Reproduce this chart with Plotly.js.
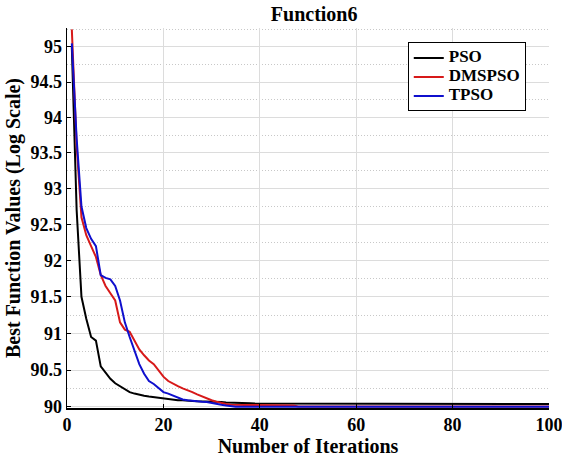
<!DOCTYPE html>
<html>
<head>
<meta charset="utf-8">
<script src="https://cdn.plot.ly/plotly-3.0.1.min.js"></script>
<style>html,body{margin:0;padding:0;background:#fff;}#chart{width:562px;height:462px;}</style>
</head>
<body>
<div id="chart"></div>
<script>
const iterations = [1,2,3,4,5,6,7,8,9,10,11,12,13,14,15,16,17,18,19,20,21,22,23,24,25,26,27,28,29,30,31,32,33,34,35,36,37,38,39,40,41,42,43,44,45,46,47,48,49,50,51,52,53,54,55,56,57,58,59,60,61,62,63,64,65,66,67,68,69,70,71,72,73,74,75,76,77,78,79,80,81,82,83,84,85,86,87,88,89,90,91,92,93,94,95,96,97,98,99,100];

const psoValues = [95.0,92.7,91.5,91.2,90.95,90.9,90.55,90.47,90.38,90.32,90.28,90.24,90.2,90.18,90.16,90.15,90.14,90.13,90.12,90.11,90.1,90.1,90.09,90.09,90.08,90.08,90.075,90.075,90.07,90.07,90.065,90.065,90.06,90.06,90.055,90.055,90.05,90.05,90.045,90.045,90.04,90.04,90.04,90.04,90.04,90.04,90.04,90.04,90.04,90.04,90.04,90.04,90.04,90.04,90.04,90.04,90.04,90.04,90.04,90.04,90.04,90.04,90.04,90.04,90.04,90.04,90.04,90.04,90.04,90.04,90.04,90.04,90.04,90.04,90.04,90.04,90.04,90.04,90.04,90.04,90.04,90.04,90.04,90.04,90.04,90.04,90.04,90.04,90.04,90.04,90.04,90.04,90.04,90.04,90.04,90.04,90.04,90.04,90.04,90.04];

const dmspsoValues = [95.25,93.6,92.6,92.35,92.2,92.05,91.8,91.65,91.55,91.45,91.15,91.05,91.02,90.9,90.78,90.7,90.63,90.58,90.5,90.41,90.35,90.31,90.28,90.25,90.23,90.2,90.17,90.14,90.11,90.09,90.07,90.05,90.04,90.03,90.025,90.025,90.025,90.025,90.025,90.025,90.02,90.02,90.02,90.02,90.02,90.02,90.02,90.005,90.005,90.005,90.005,90.005,90.005,90.005,90.005,90.005,90.005,90.005,90.005,90.005,90.005,90.005,90.005,90.005,90.005,90.005,90.005,90.005,90.005,90.005,90.005,90.005,90.005,90.005,90.005,90.005,90.005,90.005,90.005,90.005,90.005,90.005,90.005,90.005,90.005,90.005,90.005,90.005,90.005,90.005,90.005,90.005,90.005,90.005,90.005,90.005,90.005,90.005,90.005,90.005];

const tpsoValues = [95.05,93.7,92.75,92.45,92.3,92.2,91.8,91.76,91.74,91.65,91.45,91.15,90.95,90.75,90.58,90.45,90.35,90.31,90.26,90.2,90.18,90.15,90.12,90.1,90.09,90.08,90.075,90.07,90.065,90.05,90.04,90.03,90.02,90.01,90.003,90.003,90.003,90.003,90.003,90.003,90.003,90.003,90.003,90.003,90.003,90.003,90.003,90.003,90.003,90.003,90.003,90.003,90.003,90.003,90.003,90.003,90.003,90.003,90.003,90.003,90.003,90.003,90.003,90.003,90.003,90.003,90.003,90.003,90.003,90.003,90.003,90.003,90.003,90.003,90.003,90.003,90.003,90.003,90.003,90.003,90.003,90.003,90.003,90.003,90.003,90.003,90.003,90.003,90.003,90.003,90.003,90.003,90.003,90.003,90.003,90.003,90.003,90.003,90.003,90.003];

const seriesNames = ["PSO","DMSPSO","TPSO"];
const yTickVals = [90,90.5,91,91.5,92,92.5,93,93.5,94,94.5,95];
const yTickText = ["90","90.5","91","91.5","92","92.5","93","93.5","94","94.5","95"];
const yMinorVals = [90.25,90.75,91.25,91.75,92.25,92.75,93.25,93.75,94.25,94.75,95.25];
const xTickVals = [0,20,40,60,80,100];

const serif = "Liberation Serif";
const colors = ["#000000","rgb(215,25,25)","rgb(15,15,205)"];
const allValues = [psoValues, dmspsoValues, tpsoValues];

const traces = [];
for (let i = 0; i < 3; i++) {
  traces.push({
    x: iterations, y: allValues[i],
    name: '<span style="font-size:17px">' + seriesNames[i] + '</span>',
    type: "scatter", mode: "lines",
    line: {color: colors[i], width: 2}
  });
}

const layout = {
  width: 562, height: 462,
  margin: {l: 67, r: 13, t: 28, b: 54},
  paper_bgcolor: "#ffffff", plot_bgcolor: "#ffffff",
  font: {family: serif},
  title: {text: "<b>Function6</b>", x: 0.559, xanchor: "center", y: 0.97, yanchor: "middle",
          font: {family: serif, size: 20, color: "#000"}},
  showlegend: true,
  legend: {x: 0.707, y: 0.962, xanchor: "left", yanchor: "top",
           bgcolor: "#ffffff", bordercolor: "#000", borderwidth: 1,
           font: {family: serif, size: 11, color: "#000", weight: "bold"},
           tracegroupgap: 0, itemwidth: 30},
  xaxis: {
    range: [0, 100], tickvals: xTickVals, ticktext: xTickVals.map(String),
    showgrid: true, gridcolor: "#dcdcdc", gridwidth: 1,
    zeroline: false, showline: true, linecolor: "#000", linewidth: 1.5,
    ticks: "inside", ticklen: 4, tickcolor: "#000",
    ticklabeloverflow: "allow",
    tickfont: {family: serif, size: 18, color: "#000", weight: "bold"},
    title: {text: "<b>Number of Iterations</b>", standoff: 5,
            font: {family: serif, size: 20, color: "#000"}}
  },
  yaxis: {
    type: "log",
    range: [Math.log10(89.985), Math.log10(95.27)],
    tickmode: "array", tickvals: yTickVals, ticktext: yTickText,
    showgrid: true, gridcolor: "#dcdcdc", gridwidth: 1,
    zeroline: false, showline: true, linecolor: "#000", linewidth: 1.5,
    ticks: "inside", ticklen: 4, tickcolor: "#000",
    ticklabeloverflow: "allow",
    tickfont: {family: serif, size: 18, color: "#000", weight: "bold"},
    minor: {tickmode: "array", tickvals: yMinorVals, showgrid: true,
            gridcolor: "#c8c8c8", griddash: "1px,2px", gridwidth: 1, ticks: ""},
    title: {text: "<b>Best Function Values (Log Scale)</b>", standoff: 4,
            font: {family: serif, size: 20, color: "#000"}}
  }
};

Plotly.newPlot("chart", traces, layout, {displayModeBar: false, staticPlot: true});
</script>
</body>
</html>
